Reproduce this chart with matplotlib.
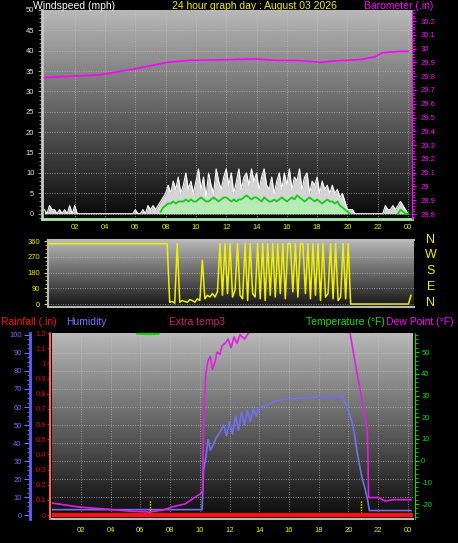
import numpy as np
import matplotlib.pyplot as plt
from matplotlib.ticker import MultipleLocator, FuncFormatter
import matplotlib.transforms as mtransforms

W, H = 458, 543
plt.rcParams['font.family'] = ['Liberation Sans', 'DejaVu Sans']
plt.rcParams['axes.unicode_minus'] = False

# ---- data ----
# wind samples every 10 minutes, 00:00 .. 24:00
t10 = np.arange(145) / 6.0
gust = [1, 0, 2, 1, 1, 0,  1, 0, 1, 0, 2, 0,  2, 0, 0, 0, 0, 0,  0, 0, 0, 0, 0, 0,
        0, 0, 0, 0, 0, 0,  0, 0, 0, 0, 0, 0,  1, 0, 0, 1, 0, 2,  1, 2, 1, 2, 3, 4,
        5, 7, 5, 8, 6, 9,  5, 7, 10, 6, 8, 5,  8, 11, 6, 9, 4, 10,  7, 5, 11, 8, 6, 9,
        11, 7, 10, 5, 8, 11,  6, 9, 10, 7, 11, 8,  10, 6, 9, 11, 7, 6,  9, 5, 8, 10, 6, 10,
        7, 11, 6, 9, 8, 11,  6, 9, 10, 5, 8, 7,  9, 5, 8, 6, 7, 5,  7, 5, 6, 4, 5, 3,
        1, 1, 1, 0, 0, 0,  0, 0, 0, 0, 0, 0,  0, 0, 0, 2, 1, 1,  2, 1, 2, 3, 2, 1,  0]
speed = [0] * 42 + [0, 0, 0, 0, 1, 2,
         2, 3, 1, 4, 2, 3,  3, 1, 4, 2, 5, 3,  2, 4, 3, 5, 1, 4,  4, 2, 5, 3, 4, 2,
         3, 5, 2, 4, 3, 5,  4, 2, 5, 3, 5, 4,  3, 5, 2, 4, 3, 2,  4, 2, 3, 5, 2, 4,
         3, 4, 2, 5, 3, 4,  5, 3, 4, 2, 4, 3,  2, 4, 3, 2, 3, 2,  3, 2, 3, 2, 2, 1] + \
        [0] * 18 + [0, 0, 1, 1, 1, 0, 0]
avg = [None] * 46 + [0.5, 1.5,
       2, 2.5, 2.5, 3, 2.5, 3,  3, 3, 3.5, 3, 3.5, 3,  3, 3.5, 4, 3.5, 3, 3,
       3.5, 4, 3.5, 3, 3.5, 4,  4, 3.5, 3, 3.5, 3, 3.5,  3.5, 4, 4.5, 4, 3.5, 4,
       4, 3.5, 3, 4, 3.5, 3,  3, 3.5, 3, 3.5, 4, 3.5,  3, 3.5, 4, 3.5, 4.5, 4,
       3.5, 3, 3.5, 4, 3.5, 3,  3.5, 3, 2.5, 3, 3.5, 3,  3, 2.5, 3, 2, 1.5, 1,
       0.5, 0] + [None] * 18 + [0, 1, 0.5, 0, 0]
direction = [345] * 48 + [
    10, 15, 5, 345, 10, 20,  15, 10, 25, 20, 10, 30,  20, 250, 30, 50, 40, 60,
    40, 70, 345, 50, 345, 60,  345, 40, 80, 345, 50, 30,  345, 20, 345, 60, 40, 345,
    30, 345, 20, 345, 50, 345,  40, 345, 60, 345, 30, 345,  345, 70, 345, 40, 345, 345,
    60, 345, 30, 345, 50, 345,  20, 345, 40, 60, 345, 30,  345, 20, 40, 345, 30, 345,
    0, 0, 0, 0, 0, 0] + [0] * 18 + [50]

baro_t = [0, 3.7, 5.8, 8.1, 9.6, 12.2, 14.0, 15.2, 16.9, 18.2, 19.5, 20.8, 21.8, 22.3, 23.5, 24]
baro = [29.79, 29.81, 29.85, 29.90, 29.915, 29.92, 29.925, 29.915, 29.913, 29.90,
        29.913, 29.92, 29.94, 29.97, 29.98, 29.98]

hum_t = [0, 10.15, 10.25, 10.4, 10.55, 10.7, 10.9, 11.1, 11.35, 11.6, 11.8, 12.0, 12.2, 12.4,
         12.6, 12.8, 13.0, 13.2, 13.4, 13.6, 13.8, 14.0, 14.5, 15.0, 15.5, 16.0, 17.0, 18.0,
         19.0, 19.6, 20.0, 20.2, 20.4, 20.6, 20.9, 21.1, 21.3, 21.4, 24.2]
hum = [3, 3, 25, 32, 42, 36, 39, 43, 46, 50, 44, 52, 45, 55, 47, 57, 50, 58, 52, 59,
       55, 60, 61, 63, 64, 64.5, 65, 65.5, 65.5, 66, 58, 53, 45, 34, 21, 15, 8, 2.5, 2.5]

dew_t = [0, 1.9, 3.6, 5.3, 6.6, 7.5, 8.3, 9.0, 9.7, 10.05, 10.18, 10.25, 10.4, 10.55, 10.7,
         10.85, 11.0, 11.15, 11.35, 11.5, 11.7, 11.9, 12.1, 12.3, 12.5, 12.7, 13.0, 13.3,
         13.6, 14.0, 16.0, 18.0, 19.8, 20.1, 20.4, 20.8, 21.25, 21.3, 21.35, 22.0, 22.45,
         23.0, 24.2]
dew = [-19.5, -21.4, -22.3, -23.3, -23.7, -22.8, -21, -20, -16.7, -15.3, -14, 20, 40, 46,
       48, 42, 45, 50, 49, 53, 54, 56, 52, 57, 54, 58, 56, 59, 60, 63, 66, 67, 63, 59, 47,
       32, 14, 5, -17, -17, -18.6, -18, -18]

temp_t = [0, 3.0, 5.5, 5.8, 6.5, 7.2, 7.5, 9.0, 12.0, 16.0, 19.0, 21.0, 24.2]
temp = [70, 65, 61, 58.6, 58.4, 58.6, 61, 75, 90, 95, 90, 80, 72]

rain_t = [0, 24.4]
rain = [0, 0]

sun_marks = [6.64, 20.84]

hour_ticks = list(range(2, 25, 2))
hour_labels = ['%02d' % (h % 24) for h in hour_ticks]


def box(l, t, r, b):
    return [l / W, 1 - b / H, (r - l) / W, (b - t) / H]


def shade(ax, top, bottom):
    grad = np.linspace(top, bottom, 256).reshape(-1, 1)
    ax.imshow(grad, extent=[0, 1, 0, 1], transform=ax.transAxes, cmap='gray',
              vmin=0, vmax=1, aspect='auto', zorder=0, interpolation='bilinear')


def dotted_grid(ax, axis='both'):
    ax.set_axisbelow(True)
    ax.grid(True, axis=axis, color='#c8c8c8', lw=0.7, ls=(0, (1, 1.5)), alpha=0.6)


def num(v, pos=None):
    s = '%.1f' % v
    return s.rstrip('0').rstrip('.')


fig = plt.figure(figsize=(W / 100, H / 100), dpi=100, facecolor='black')

# ---- top: wind + barometer ----
ax1 = fig.add_axes(box(42, 10, 412, 219))
shade(ax1, 0.72, 0.03)
ax1.fill_between(t10, 0, gust, color='#d4d4d4', lw=0, zorder=2)
ax1.plot(t10, gust, color='white', lw=0.8, zorder=3)
ax1.fill_between(t10, 0, speed, color='#b4ecb4', lw=0, zorder=4)
ax1.plot(t10, np.array(avg, dtype=float), color='#10d010', lw=1.3, zorder=5)
ax1.set_xlim(-0.16, 24.26)
ax1.set_ylim(-1.3, 50)
ax1.set_yticks(range(0, 51, 5))
ax1.yaxis.set_minor_locator(MultipleLocator(1))
ax1.set_xticks(hour_ticks)
ax1.set_xticklabels(hour_labels)
dotted_grid(ax1)
ax1.tick_params(axis='y', which='both', colors='#909090', labelcolor='#e8e8e8',
                labelsize=5.5, length=3, pad=2.5)
ax1.tick_params(axis='y', which='minor', length=2)
ax1.tick_params(axis='x', length=0, labelcolor='#f0f000', labelsize=5.5, pad=3.5)
for s in ['top', 'right']:
    ax1.spines[s].set_visible(False)
ax1.spines['left'].set_color('#c8c8c8')
ax1.spines['left'].set_linewidth(2)
ax1.spines['bottom'].set_color('#a8eca8')
ax1.spines['bottom'].set_linewidth(2)

ax1b = ax1.twinx()
ax1b.plot(baro_t, baro, color='#ff00ff', lw=1.2)
ax1b.set_ylim(28.764, 30.28)
ax1b.set_yticks(np.round(np.arange(28.8, 30.21, 0.1), 1))
ax1b.yaxis.set_major_formatter(FuncFormatter(num))
ax1b.yaxis.set_minor_locator(MultipleLocator(0.02))
ax1b.tick_params(axis='y', which='both', colors='#ff00ff', labelsize=5.5, length=3, pad=3)
ax1b.tick_params(axis='y', which='minor', length=2)
for s in ['top', 'left', 'bottom']:
    ax1b.spines[s].set_visible(False)
ax1b.spines['right'].set_color('#ff00ff')
ax1b.spines['right'].set_linestyle((0, (1, 1)))

fig.text(33 / W, 1 - 6 / H, 'Windspeed (mph)', color='white', fontsize=7.5, va='center')
fig.text(254 / W, 1 - 6 / H, '24 hour graph day : August 03 2026', color='#f0f000',
         fontsize=7.5, va='center', ha='center')
fig.text(433 / W, 1 - 6 / H, 'Barometer (.in)', color='#ff00ff', fontsize=7.5,
         va='center', ha='right')

# ---- middle: wind direction ----
ax2 = fig.add_axes(box(48, 240, 414, 307))
shade(ax2, 0.72, 0.08)
ax2.plot(t10, direction, color='#f0f000', lw=1.1, zorder=3)
ax2.set_xlim(-0.07, 24.2)
ax2.set_ylim(-17, 366)
ax2.set_yticks([0, 90, 180, 270, 360])
ax2.yaxis.set_minor_locator(MultipleLocator(22.5))
ax2.set_xticks(hour_ticks)
dotted_grid(ax2, 'y')
ax2.tick_params(axis='y', which='both', colors='#f0f000', labelsize=5.5, length=3, pad=2.5)
ax2.tick_params(axis='y', which='minor', length=2)
ax2.tick_params(axis='x', length=0, labelbottom=False)
for s in ['top', 'bottom', 'left', 'right']:
    ax2.spines[s].set_color('#b8b8b8')
    ax2.spines[s].set_linewidth(1.5)
ax2.spines['right'].set_visible(False)
trans = mtransforms.blended_transform_factory(ax2.transAxes, ax2.transData)
for d, name in zip([360, 270, 180, 90, 0], ['N', 'W', 'S', 'E', 'N']):
    ax2.text(1.046, d + 8, name, transform=trans, color='#f0f000', fontsize=9,
             ha='center', va='center')

# ---- bottom: humidity / rain / temperatures ----
ax3 = fig.add_axes(box(52, 333, 413, 519))
shade(ax3, 0.72, 0.04)
ax3.plot(hum_t, hum, color='#7070f0', lw=1.2, zorder=3)
for s in sun_marks:
    ax3.axvline(s, ymin=0, ymax=0.1, color='#f0f000', lw=1, ls=(0, (1, 1)), zorder=4)
ax3.set_xlim(0.05, 24.34)
ax3.set_ylim(-2.2, 101.1)
ax3.set_yticks(range(0, 101, 10))
ax3.yaxis.set_minor_locator(MultipleLocator(2.5))
ax3.set_xticks(hour_ticks)
ax3.set_xticklabels(hour_labels)
dotted_grid(ax3)
ax3.tick_params(axis='y', which='both', colors='#7070ff', labelsize=5.5, length=4, pad=2)
ax3.tick_params(axis='y', which='minor', length=2)
ax3.tick_params(axis='x', length=0, labelcolor='#f0f000', labelsize=5.5, pad=5.5)
ax3.spines['left'].set_position(('axes', -0.061))
ax3.spines['left'].set_color('#6060ff')
ax3.spines['left'].set_linewidth(2)
ax3.spines['bottom'].set_color('#b8b8b8')
ax3.spines['bottom'].set_linewidth(1.5)
for s in ['top', 'right']:
    ax3.spines[s].set_visible(False)

ax3r = ax3.twinx()
ax3r.yaxis.tick_left()
ax3r.plot(rain_t, rain, color='#ff1010', lw=3, zorder=5)
ax3r.set_ylim(-0.026, 1.197)
ax3r.set_yticks(np.round(np.arange(0, 1.21, 0.1), 1))
ax3r.yaxis.set_major_formatter(FuncFormatter(num))
ax3r.yaxis.set_minor_locator(MultipleLocator(0.02))
ax3r.tick_params(axis='y', which='both', colors='#e00000', labelsize=5.5, length=2, pad=1)
ax3r.tick_params(axis='y', which='minor', length=1)
for s in ['top', 'right', 'bottom']:
    ax3r.spines[s].set_visible(False)
ax3r.spines['left'].set_position(('axes', -0.0055))
ax3r.spines['left'].set_color('#ff6060')
ax3r.spines['left'].set_linestyle((0, (1, 1)))
ax3r.spines['left'].set_linewidth(1.5)

ax3t = ax3.twinx()
ax3t.plot(dew_t, dew, color='#e020e0', lw=1.2, zorder=3)
ax3t.plot(temp_t, temp, color='#00e000', lw=2, zorder=3)
ax3t.set_ylim(-26.9, 58.8)
ax3t.set_yticks(range(-20, 51, 10))
ax3t.yaxis.set_minor_locator(MultipleLocator(2))
ax3t.tick_params(axis='y', which='both', colors='#00e000', labelsize=5.5, length=3, pad=1.5)
ax3t.tick_params(axis='y', which='minor', length=2)
for s in ['top', 'left', 'bottom']:
    ax3t.spines[s].set_visible(False)
ax3t.spines['right'].set_position(('axes', 1.0055))
ax3t.spines['right'].set_color('#00e000')
ax3t.spines['right'].set_linestyle((0, (1, 1)))

hy = 1 - 322 / H
fig.text(1 / W, hy, 'Rainfall (.in)', color='#ff1010', fontsize=7.5, va='center')
fig.text(66 / W, hy, 'Humidity', color='#7878ff', fontsize=7.5, va='center')
fig.text(225 / W, hy, 'Extra temp3', color='#d0206a', fontsize=7.5, va='center', ha='right')
fig.text(385 / W, hy, 'Temperature (°F)', color='#10e010', fontsize=7.5, va='center',
         ha='right')
fig.text(386 / W, hy, 'Dew Point (°F)', color='#ff00ff', fontsize=7.5, va='center')

fig.savefig('out.png', dpi=100, facecolor='black')
